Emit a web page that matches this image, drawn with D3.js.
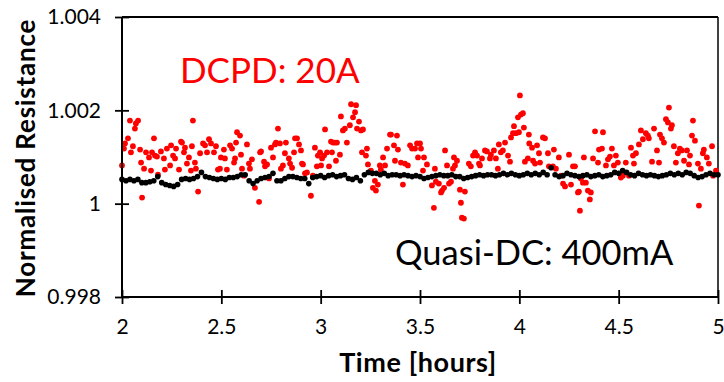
<!DOCTYPE html>
<html>
<head>
<meta charset="utf-8">
<script src="https://cdn.jsdelivr.net/npm/d3@7"></script>
<style>
  body { margin: 0; background: #fff; }
  text { font-family: Lato, "Open Sans", sans-serif; }
</style>
</head>
<body>
<svg id="chart" width="724" height="382"></svg>
<script>
// x ticks (hours) and y ticks (normalised resistance)
const xTicks = [2, 2.5, 3, 3.5, 4, 4.5, 5];
const xTickLabels = ['2', '2.5', '3', '3.5', '4', '4.5', '5'];
const yTicks = [0.998, 1, 1.002, 1.004];
const yTickLabels = ['0.998', '1', '1.002', '1.004'];

// DCPD at 20 A: time [h] and normalised resistance
const dcpdTime = [
  2.000, 2.010, 2.015, 2.030, 2.040, 2.045, 2.055, 2.065, 2.070, 2.081, 2.091, 2.096, 2.101, 2.111, 2.121,
  2.136, 2.146, 2.151, 2.161, 2.166, 2.176, 2.181, 2.196, 2.211, 2.216, 2.226, 2.242, 2.247, 2.257, 2.267,
  2.272, 2.287, 2.297, 2.302, 2.312, 2.317, 2.327, 2.337, 2.347, 2.352, 2.357, 2.367, 2.372, 2.383, 2.393,
  2.408, 2.418, 2.428, 2.438, 2.448, 2.463, 2.473, 2.483,
  2.493, 2.498, 2.513, 2.518, 2.528, 2.544, 2.554, 2.564, 2.569, 2.574, 2.579, 2.594, 2.599, 2.604, 2.614,
  2.629, 2.639, 2.644, 2.654, 2.669, 2.690, 2.695, 2.700, 2.715, 2.720, 2.730, 2.740, 2.750, 2.760, 2.770,
  2.775, 2.785, 2.795, 2.800, 2.810, 2.820, 2.825, 2.840, 2.846, 2.856, 2.866, 2.871, 2.881, 2.891, 2.901,
  2.906, 2.911, 2.921, 2.931, 2.951, 2.961, 2.971, 2.981, 2.986,
  2.997, 3.002, 3.007, 3.017, 3.022, 3.032, 3.042, 3.052, 3.057, 3.062, 3.072, 3.077, 3.082, 3.097, 3.102,
  3.112, 3.122, 3.132, 3.147, 3.153, 3.163, 3.173, 3.178, 3.183, 3.193, 3.203, 3.213, 3.208, 3.228, 3.233,
  3.238, 3.253, 3.263, 3.273, 3.278, 3.288, 3.298, 3.303, 3.314, 3.324, 3.334, 3.349, 3.354, 3.369, 3.374,
  3.384, 3.389, 3.404, 3.414, 3.424, 3.439, 3.450, 3.460, 3.475, 3.485, 3.490,
  3.500, 3.505, 3.515, 3.520, 3.535, 3.560, 3.570, 3.575, 3.580, 3.595, 3.606, 3.611, 3.621, 3.626, 3.636,
  3.646, 3.656, 3.666, 3.671, 3.676, 3.686, 3.701, 3.706, 3.711, 3.721, 3.726, 3.746, 3.756, 3.767, 3.777,
  3.787, 3.797, 3.802, 3.812, 3.827, 3.837, 3.852, 3.857, 3.872, 3.882, 3.892, 3.897, 3.907, 3.917, 3.928,
  3.943, 3.953, 3.958, 3.968, 3.973, 3.983, 3.993,
  3.998, 4.003, 4.008, 4.018, 4.023, 4.028, 4.043, 4.048, 4.050, 4.064, 4.069, 4.079, 4.089, 4.099, 4.104,
  4.119, 4.129, 4.144, 4.149, 4.169, 4.174, 4.184, 4.199, 4.210, 4.220, 4.230, 4.250, 4.260, 4.270, 4.280,
  4.295, 4.300, 4.305, 4.310, 4.320, 4.325, 4.335, 4.345, 4.355, 4.360, 4.371, 4.381, 4.396, 4.401, 4.416,
  4.421, 4.436, 4.446, 4.456, 4.466, 4.476, 4.486,
  4.496, 4.511, 4.521, 4.536, 4.552, 4.562, 4.572, 4.577, 4.587, 4.602, 4.612, 4.622, 4.637, 4.647, 4.652,
  4.668, 4.678, 4.693, 4.703, 4.708, 4.718, 4.728, 4.738, 4.748, 4.753, 4.763, 4.768, 4.778, 4.788, 4.798,
  4.808, 4.818, 4.829, 4.844, 4.854, 4.859, 4.869, 4.874, 4.884, 4.899, 4.904, 4.914, 4.924, 4.929, 4.944,
  4.954, 4.970, 4.975, 4.990
];
const dcpdValue = [
  1.00082, 1.00118, 1.00129, 1.00140, 1.00178, 1.00110, 1.00123, 1.00161, 1.00172, 1.00178, 1.00116, 1.00088, 1.00013, 1.00075, 1.00110,
  1.00099, 1.00071, 1.00110, 1.00140, 1.00103, 1.00101, 1.00062, 1.00112, 1.00097, 1.00073, 1.00118, 1.00082, 1.00125, 1.00103, 1.00097,
  1.00118, 1.00073, 1.00133, 1.00131, 1.00110, 1.00120, 1.00086, 1.00099, 1.00071, 1.00123, 1.00178, 1.00088, 1.00075, 1.00026, 1.00108,
  1.00129, 1.00125, 1.00110, 1.00138, 1.00129, 1.00110, 1.00123, 1.00073,
  1.00075, 1.00099, 1.00116, 1.00097, 1.00073, 1.00125, 1.00118, 1.00088, 1.00097, 1.00131, 1.00153, 1.00146, 1.00105, 1.00075, 1.00060,
  1.00127, 1.00086, 1.00075, 1.00095, 1.00034, 1.00004, 1.00110, 1.00112, 1.00090, 1.00080, 1.00084, 1.00054, 1.00120, 1.00099, 1.00127,
  1.00131, 1.00161, 1.00129, 1.00075, 1.00082, 1.00108, 1.00131, 1.00097, 1.00086, 1.00077, 1.00110, 1.00140, 1.00140, 1.00127, 1.00114,
  1.00086, 1.00084, 1.00065, 1.00067, 1.00017, 1.00060, 1.00120, 1.00080, 1.00103,
  1.00110, 1.00082, 1.00097, 1.00103, 1.00159, 1.00110, 1.00080, 1.00133, 1.00110, 1.00131, 1.00131, 1.00092, 1.00131, 1.00105, 1.00187,
  1.00157, 1.00161, 1.00131, 1.00168, 1.00213, 1.00185, 1.00196, 1.00211, 1.00161, 1.00176, 1.00157, 1.00159, 1.00110, 1.00103, 1.00118,
  1.00084, 1.00071, 1.00034, 1.00049, 1.00028, 1.00041, 1.00082, 1.00073, 1.00099, 1.00082, 1.00118, 1.00148, 1.00148, 1.00125, 1.00092,
  1.00146, 1.00116, 1.00088, 1.00041, 1.00086, 1.00082, 1.00125, 1.00118, 1.00118, 1.00129, 1.00099,
  1.00129, 1.00118, 1.00071, 1.00099, 1.00084, 1.00039, 0.99991, 1.00075, 1.00047, 1.00043, 1.00024, 1.00028, 1.00034, 1.00114, 1.00082,
  1.00043, 1.00047, 1.00075, 1.00099, 1.00082, 1.00092, 1.00030, 1.00002, 0.99970, 0.99968, 1.00026, 1.00086, 1.00080, 1.00103, 1.00110,
  1.00103, 1.00086, 1.00082, 1.00097, 1.00114, 1.00112, 1.00097, 1.00105, 1.00114, 1.00097, 1.00075, 1.00127, 1.00110, 1.00114, 1.00131,
  1.00103, 1.00090, 1.00142, 1.00151, 1.00166, 1.00151, 1.00185,
  1.00153, 1.00232, 1.00191, 1.00194, 1.00163, 1.00090, 1.00097, 1.00148, 1.00129, 1.00120, 1.00092, 1.00086, 1.00125, 1.00108, 1.00088,
  1.00142, 1.00140, 1.00108, 1.00080, 1.00080, 1.00116, 1.00075, 1.00099, 1.00060, 1.00043, 1.00037, 1.00105, 1.00041, 1.00080, 1.00080,
  1.00024, 1.00026, 0.99985, 1.00054, 1.00045, 1.00099, 1.00045, 1.00028, 1.00009, 1.00024, 1.00097, 1.00155, 1.00088, 1.00116, 1.00118,
  1.00153, 1.00082, 1.00095, 1.00101, 1.00118, 1.00082, 1.00103,
  1.00088, 1.00056, 1.00060, 1.00088, 1.00060, 1.00120, 1.00103, 1.00086, 1.00108, 1.00127, 1.00157, 1.00138, 1.00151, 1.00146, 1.00140,
  1.00090, 1.00161, 1.00114, 1.00088, 1.00148, 1.00140, 1.00131, 1.00181, 1.00174, 1.00206, 1.00161, 1.00168, 1.00123, 1.00088, 1.00108,
  1.00118, 1.00114, 1.00092, 1.00114, 1.00084, 1.00103, 1.00146, 1.00178, 1.00135, 1.00086, 0.99996, 1.00075, 1.00108, 1.00116, 1.00099,
  1.00086, 1.00123, 1.00060, 1.00071
];

// Quasi-DC at 400 mA, sampled every 0.02 h from 2 h
const quasiStart = 2;
const quasiStep = 0.02;
const quasiValue = [
  1.00052, 1.00049, 1.00052, 1.00049, 1.00052, 1.00045, 1.00045, 1.00047, 1.00049, 1.00058,
  1.00045, 1.00041, 1.00039, 1.00037, 1.00041, 1.00052, 1.00054, 1.00052, 1.00054, 1.00058,
  1.00067, 1.00058, 1.00056, 1.00054, 1.00052, 1.00054, 1.00052, 1.00056, 1.00056, 1.00058,
  1.00062, 1.00062, 1.00049, 1.00043, 1.00049, 1.00054, 1.00056, 1.00058, 1.00065, 1.00049,
  1.00049, 1.00054, 1.00058, 1.00058, 1.00056, 1.00054, 1.00054, 1.00043, 1.00056, 1.00058,
  1.00060, 1.00056, 1.00060, 1.00062, 1.00058, 1.00060, 1.00062, 1.00054, 1.00052, 1.00056,
  1.00049, 1.00062, 1.00067, 1.00065, 1.00065, 1.00062, 1.00065, 1.00060, 1.00062, 1.00062,
  1.00060, 1.00062, 1.00060, 1.00058, 1.00060, 1.00058, 1.00054, 1.00056, 1.00058, 1.00060,
  1.00062, 1.00060, 1.00060, 1.00062, 1.00058, 1.00058, 1.00054, 1.00056, 1.00058, 1.00060,
  1.00062, 1.00060, 1.00062, 1.00062, 1.00060, 1.00062, 1.00065, 1.00062, 1.00065, 1.00062,
  1.00060, 1.00062, 1.00065, 1.00062, 1.00065, 1.00062, 1.00067, 1.00062, 1.00077, 1.00062,
  1.00058, 1.00060, 1.00065, 1.00062, 1.00060, 1.00058, 1.00060, 1.00062, 1.00058, 1.00060,
  1.00062, 1.00058, 1.00060, 1.00062, 1.00067, 1.00065, 1.00071, 1.00067, 1.00062, 1.00060,
  1.00065, 1.00062, 1.00060, 1.00062, 1.00060, 1.00058, 1.00060, 1.00062, 1.00065, 1.00062,
  1.00065, 1.00062, 1.00067, 1.00065, 1.00060, 1.00056, 1.00058, 1.00062, 1.00065, 1.00062,
  1.00062
];

const svg = d3.select('#chart');
const margin = { top: 17, right: 6, bottom: 85, left: 122 };
const width = 724 - margin.left - margin.right;
const height = 382 - margin.top - margin.bottom;

const x = d3.scaleLinear().domain([2, 5]).range([0, width]);
const y = d3.scaleLinear().domain([0.998, 1.004]).range([height, 0]);

const g = svg.append('g').attr('transform', `translate(${margin.left},${margin.top})`);

// frame top + right
g.append('line').attr('x1', 0).attr('x2', width).attr('y1', 0).attr('y2', 0)
  .attr('stroke', '#000').attr('stroke-width', 1.8);
g.append('line').attr('x1', width).attr('x2', width).attr('y1', 0).attr('y2', height)
  .attr('stroke', '#000').attr('stroke-width', 1.5);

// data
const dcpd = dcpdTime.map((t, i) => ({ t, v: dcpdValue[i] }));
const quasi = quasiValue.map((v, i) => ({ t: quasiStart + i * quasiStep, v }));

g.append('g').selectAll('circle').data(dcpd).enter().append('circle')
  .attr('cx', d => x(d.t)).attr('cy', d => y(d.v)).attr('r', 2.9)
  .attr('fill', '#ff0000');

g.append('g').selectAll('circle').data(quasi).enter().append('circle')
  .attr('cx', d => x(d.t)).attr('cy', d => y(d.v)).attr('r', 2.8)
  .attr('fill', '#000');

// axes, ticks cross the axis line
const yAxis = d3.axisLeft(y).tickValues(yTicks)
  .tickFormat((d, i) => yTickLabels[i]).tickSize(7).tickPadding(14);
const gy = g.append('g').call(yAxis);
gy.selectAll('.tick line').attr('x1', 7).attr('stroke-width', 1.8);
gy.select('.domain').attr('stroke-width', 2).attr('d', `M0,0V${height}`);
gy.selectAll('.tick text').attr('font-size', 21).attr('fill', '#000')
  .attr('font-family', 'Lato, sans-serif');

const xAxis = d3.axisBottom(x).tickValues(xTicks)
  .tickFormat((d, i) => xTickLabels[i]).tickSize(7).tickPadding(15);
const gx = g.append('g').attr('transform', `translate(0,${height})`).call(xAxis);
gx.selectAll('.tick line').attr('y1', -7).attr('stroke-width', 1.8);
gx.select('.domain').attr('stroke-width', 2).attr('d', `M0,0H${width}`);
gx.selectAll('.tick text').attr('font-size', 21).attr('fill', '#000')
  .attr('font-family', 'Lato, sans-serif');

// titles
svg.append('text').attr('x', margin.left + width / 2 - 2).attr('y', 372)
  .attr('text-anchor', 'middle').attr('font-weight', 'bold').attr('font-size', 27)
  .attr('letter-spacing', 0.6)
  .text('Time [hours]');

svg.append('text').attr('transform', 'translate(35,158) rotate(-90)')
  .attr('text-anchor', 'middle').attr('font-weight', 'bold').attr('font-size', 26)
  .attr('letter-spacing', 0.8)
  .text('Normalised Resistance');

// series labels
svg.append('text').attr('x', 180).attr('y', 83).attr('font-size', 35)
  .attr('fill', '#ff0000').text('DCPD: 20A');
svg.append('text').attr('x', 395).attr('y', 265).attr('font-size', 34.5)
  .attr('fill', '#000').text('Quasi-DC: 400mA');
</script>
</body>
</html>
